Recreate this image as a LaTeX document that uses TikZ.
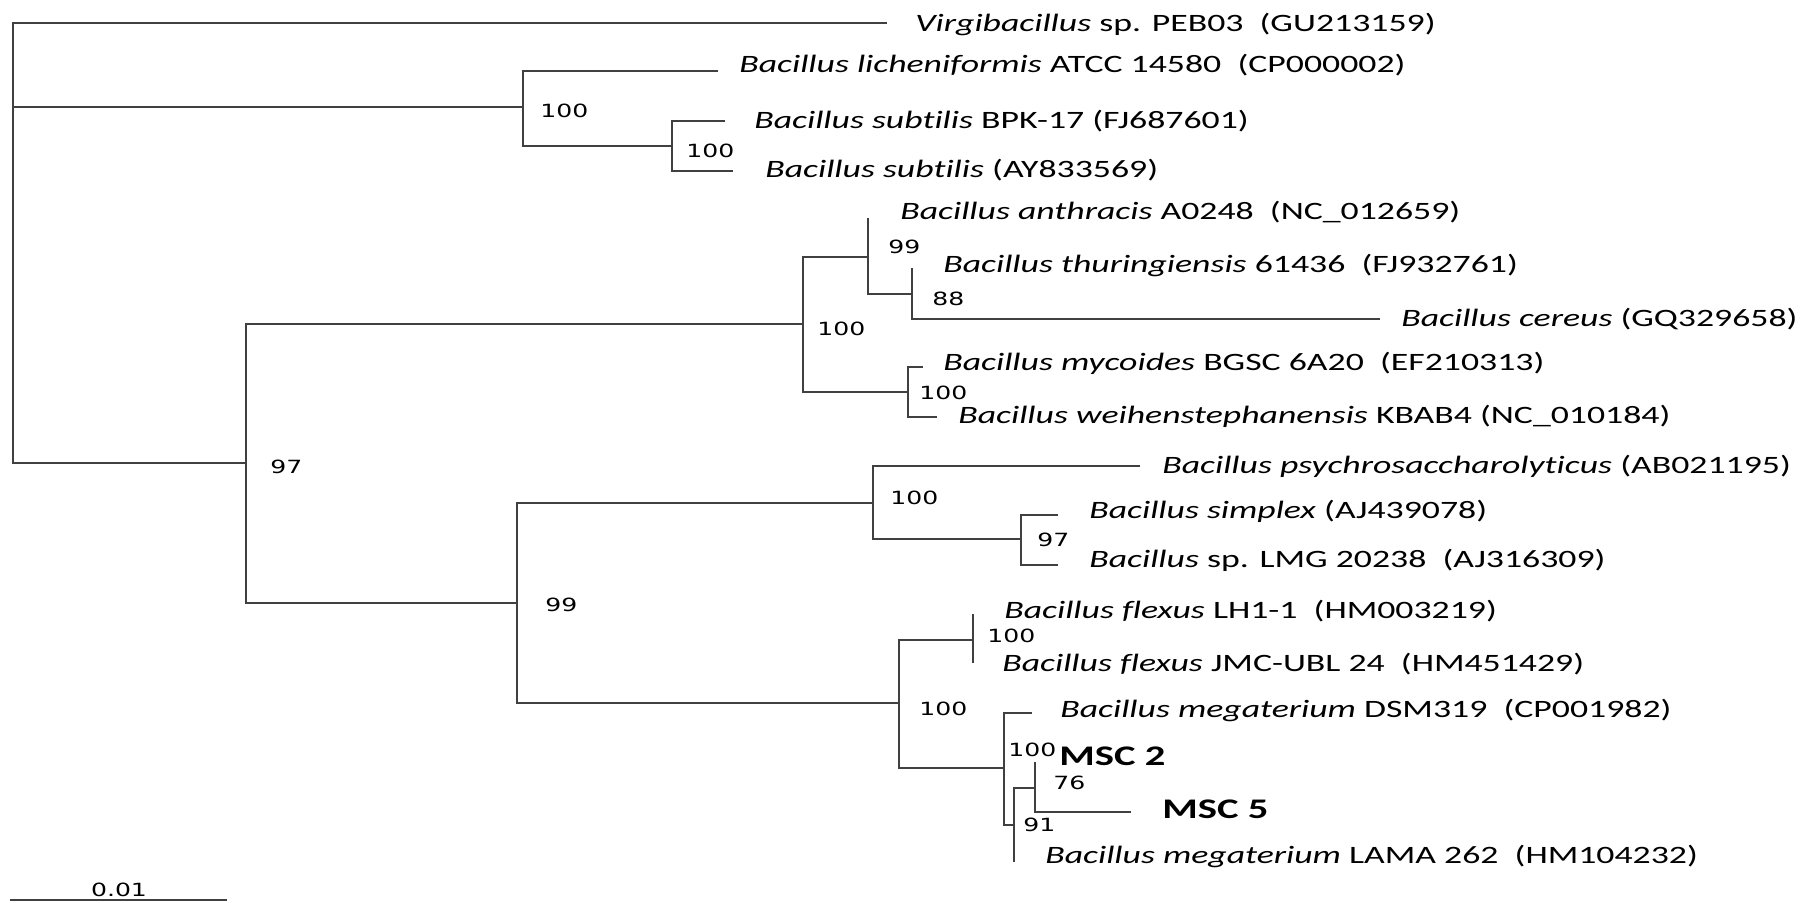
\documentclass[tikz,border=0pt]{standalone}
\usepackage{fontspec}
\setmainfont{Carlito}[FakeStretch=1.43, Ligatures={NoCommon}]
\newfontfamily\bootfont{DejaVu Sans}[FakeStretch=1.38]
\usepackage{tikz}
\tikzset{
  % The 'branch' style is for every line of the tree, dark grey and about 2.5px thick
  branch/.style={draw=black!75, line width=1.3pt},
  % The 'leaf-text' style is for the names of the reference strains
  leaf-text/.style={font=\fontsize{12.5}{15}\selectfont, anchor=base west, text=black, inner sep=0pt},
  % The 'isolate-text' style is for the two isolates, set in bold
  isolate-text/.style={font=\fontsize{14.2}{17}\selectfont\bfseries, anchor=base west, text=black, inner sep=0pt},
  % The 'boot-text' style is for the bootstrap values next to the nodes
  boot-text/.style={font=\bootfont\fontsize{9.1}{11}\selectfont, anchor=west, text=black, inner sep=0pt}
}

\begin{document}
\begin{tikzpicture}[x=0.5pt, y=-0.5pt]

  % Fix the picture size to the reference (pixels)
  \useasboundingbox (0,0) rectangle (1809,902);

  % Inner nodes of the tree
  \coordinate (root) at (13,243);
  \coordinate (n100a) at (523,107);
  \coordinate (n100b) at (672,146);
  \coordinate (n97) at (246,463);
  \coordinate (n100c) at (803,324);
  \coordinate (n99b) at (868,257);
  \coordinate (n88) at (912,294);
  \coordinate (n100d) at (908,392);
  \coordinate (n99a) at (517,603);
  \coordinate (n100e) at (873,503);
  \coordinate (n97b) at (1021,539);
  \coordinate (n100f) at (899,703);
  \coordinate (n100g) at (973,640);
  \coordinate (n100h) at (1004,768);
  \coordinate (n91) at (1014,825);
  \coordinate (n76) at (1035,788);

  % Branch tips
  \coordinate (virg-tip) at (887,23);
  \coordinate (lich-tip) at (718,71);
  \coordinate (bpk-tip) at (725,121);
  \coordinate (ay-tip) at (733,171);
  \coordinate (anth-tip) at (868,218);
  \coordinate (thur-tip) at (912,268);
  \coordinate (cer-tip) at (1380,319);
  \coordinate (myc-tip) at (923,367);
  \coordinate (weih-tip) at (937,417);
  \coordinate (psy-tip) at (1140,466);
  \coordinate (simp-tip) at (1058,515);
  \coordinate (lmg-tip) at (1058,565);
  \coordinate (flexa-tip) at (973,614);
  \coordinate (flexb-tip) at (973,663);
  \coordinate (dsm-tip) at (1032,713);
  \coordinate (msc2-tip) at (1035,762);
  \coordinate (msc5-tip) at (1131,812);
  \coordinate (lama-tip) at (1014,862);

  % Draw the branches, parent to child
  \begin{scope}[branch]
    \draw (root) |- (virg-tip);
    \draw (root) |- (n100a);
    \draw (root) |- (n97);
    \draw (n100a) |- (lich-tip);
    \draw (n100a) |- (n100b);
    \draw (n100b) |- (bpk-tip);
    \draw (n100b) |- (ay-tip);
    \draw (n97) |- (n100c);
    \draw (n97) |- (n99a);
    \draw (n100c) |- (n99b);
    \draw (n100c) |- (n100d);
    \draw (n99b) |- (anth-tip);
    \draw (n99b) |- (n88);
    \draw (n88) |- (thur-tip);
    \draw (n88) |- (cer-tip);
    \draw (n100d) |- (myc-tip);
    \draw (n100d) |- (weih-tip);
    \draw (n99a) |- (n100e);
    \draw (n99a) |- (n100f);
    \draw (n100e) |- (psy-tip);
    \draw (n100e) |- (n97b);
    \draw (n97b) |- (simp-tip);
    \draw (n97b) |- (lmg-tip);
    \draw (n100f) |- (n100g);
    \draw (n100f) |- (n100h);
    \draw (n100g) |- (flexa-tip);
    \draw (n100g) |- (flexb-tip);
    \draw (n100h) |- (dsm-tip);
    \draw (n100h) |- (n91);
    \draw (n91) |- (n76);
    \draw (n91) |- (lama-tip);
    \draw (n76) |- (msc2-tip);
    \draw (n76) |- (msc5-tip);
  \end{scope}

  % Names of the strains
  \node[leaf-text] at (915,31) (virg) {\textit{Virgibacillus} sp. PEB03\ \ (GU213159)};
  \node[leaf-text] at (739,72) (lich) {\textit{Bacillus licheniformis} ATCC 14580\ \ (CP000002)};
  \node[leaf-text] at (754,128) (bpk) {\textit{Bacillus subtilis} BPK-17 (FJ687601)};
  \node[leaf-text] at (765,177) (ay) {\textit{Bacillus subtilis} (AY833569)};
  \node[leaf-text] at (900,219) (anth) {\textit{Bacillus anthracis} A0248\ \ (NC\_012659)};
  \node[leaf-text] at (943,272) (thur) {\textit{Bacillus thuringiensis} 61436\ \ (FJ932761)};
  \node[leaf-text] at (1401,326) (cer) {\textit{Bacillus cereus} (GQ329658)};
  \node[leaf-text] at (943,370) (myc) {\textit{Bacillus mycoides} BGSC 6A20\ \ (EF210313)};
  \node[leaf-text] at (958,423) (weih) {\textit{Bacillus weihenstephanensis} KBAB4 (NC\_010184)};
  \node[leaf-text] at (1162,473) (psy) {\textit{Bacillus psychrosaccharolyticus} (AB021195)};
  \node[leaf-text] at (1089,518) (simp) {\textit{Bacillus simplex} (AJ439078)};
  \node[leaf-text] at (1089,567) (lmg) {\textit{Bacillus} sp. LMG 20238\ \ (AJ316309)};
  \node[leaf-text] at (1004,618) (flexa) {\textit{Bacillus flexus} LH1-1\ \ (HM003219)};
  \node[leaf-text] at (1002,671) (flexb) {\textit{Bacillus flexus} JMC-UBL 24\ \ (HM451429)};
  \node[leaf-text] at (1060,717) (dsm) {\textit{Bacillus megaterium} DSM319\ \ (CP001982)};
  \node[isolate-text] at (1059,765) (msc2) {MSC 2};
  \node[isolate-text] at (1162,818) (msc5) {MSC 5};
  \node[leaf-text] at (1045,863) (lama) {\textit{Bacillus megaterium} LAMA 262\ \ (HM104232)};

  % Bootstrap values
  \node[boot-text] at (540,111) (b100a) {100};
  \node[boot-text] at (686,151) (b100b) {100};
  \node[boot-text] at (270,467) (b97) {97};
  \node[boot-text] at (817,329) (b100c) {100};
  \node[boot-text] at (888,247) (b99b) {99};
  \node[boot-text] at (932,299) (b88) {88};
  \node[boot-text] at (919,393) (b100d) {100};
  \node[boot-text] at (545,605) (b99a) {99};
  \node[boot-text] at (890,498) (b100e) {100};
  \node[boot-text] at (1037,540) (b97b) {97};
  \node[boot-text] at (919,709) (b100f) {100};
  \node[boot-text] at (987,636) (b100g) {100};
  \node[boot-text] at (1008,750) (b100h) {100};
  \node[boot-text] at (1023,825) (b91) {91};
  \node[boot-text] at (1053,783) (b76) {76};

  % Scale bar
  \coordinate (bar-l) at (10,900);
  \coordinate (bar-r) at (227,900);
  \draw[branch] (bar-l) -- (bar-r);
  \node[boot-text, anchor=center] at (119,890) (bar-label) {0.01};

\end{tikzpicture}
\end{document}
